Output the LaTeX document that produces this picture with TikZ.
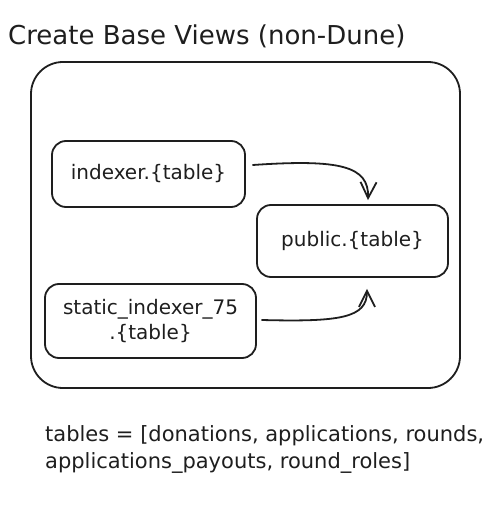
\documentclass[tikz,border=0pt]{standalone}
\usepackage{fontspec}
\setmainfont{DejaVu Sans}
\usetikzlibrary{arrows.meta}
\definecolor{ink}{HTML}{1E1E1E}
\begin{document}
\begin{tikzpicture}[x=1pt,y=-1pt,
  ink/.style={draw=ink, line width=1.8pt},
  boxnode/.style={ink, rounded corners=14pt, inner sep=0pt, align=center,
    font=\fontsize{20}{25}\selectfont, text=ink},
  conn/.style={ink, line cap=round, -{Straight Barb[length=16pt,width=16pt,line width=1.8pt]}},
  plain/.style={inner sep=0pt, text=ink}]
\useasboundingbox (0,0) rectangle (496,510);
\node[plain, anchor=base west, font=\fontsize{26}{30}\selectfont] (title) at (8,45) {Create Base Views (non-Dune)};
\node[ink, rounded corners=32pt, minimum width=429pt, minimum height=326pt, inner sep=0pt] (frame) at (245.5,225) {};
\node[boxnode, minimum width=193pt, minimum height=66pt] (indexer) at (148.5,174) {indexer.\{table\}};
\node[boxnode, minimum width=191pt, minimum height=72pt] (public) at (352.5,241) {public.\{table\}};
\node[boxnode, minimum width=211pt, minimum height=74pt] (static) at (150.5,321) {static\_indexer\_75\\.\{table\}};
\draw[conn] ([xshift=7pt,yshift=9pt]indexer.east) .. controls (340,159) and (369,166) .. ([xshift=15.5pt,yshift=4pt]public.north);
\draw[conn] ([xshift=5pt,yshift=1pt]static.east) .. controls (340,322) and (367,318) .. ([xshift=14.5pt,yshift=-11pt]public.south);
\node[plain, anchor=base west, align=left, font=\fontsize{21}{26.5}\selectfont] (tables) at (45,468) {tables = [donations, applications, rounds,\\applications\_payouts, round\_roles]};
\end{tikzpicture}
\end{document}
